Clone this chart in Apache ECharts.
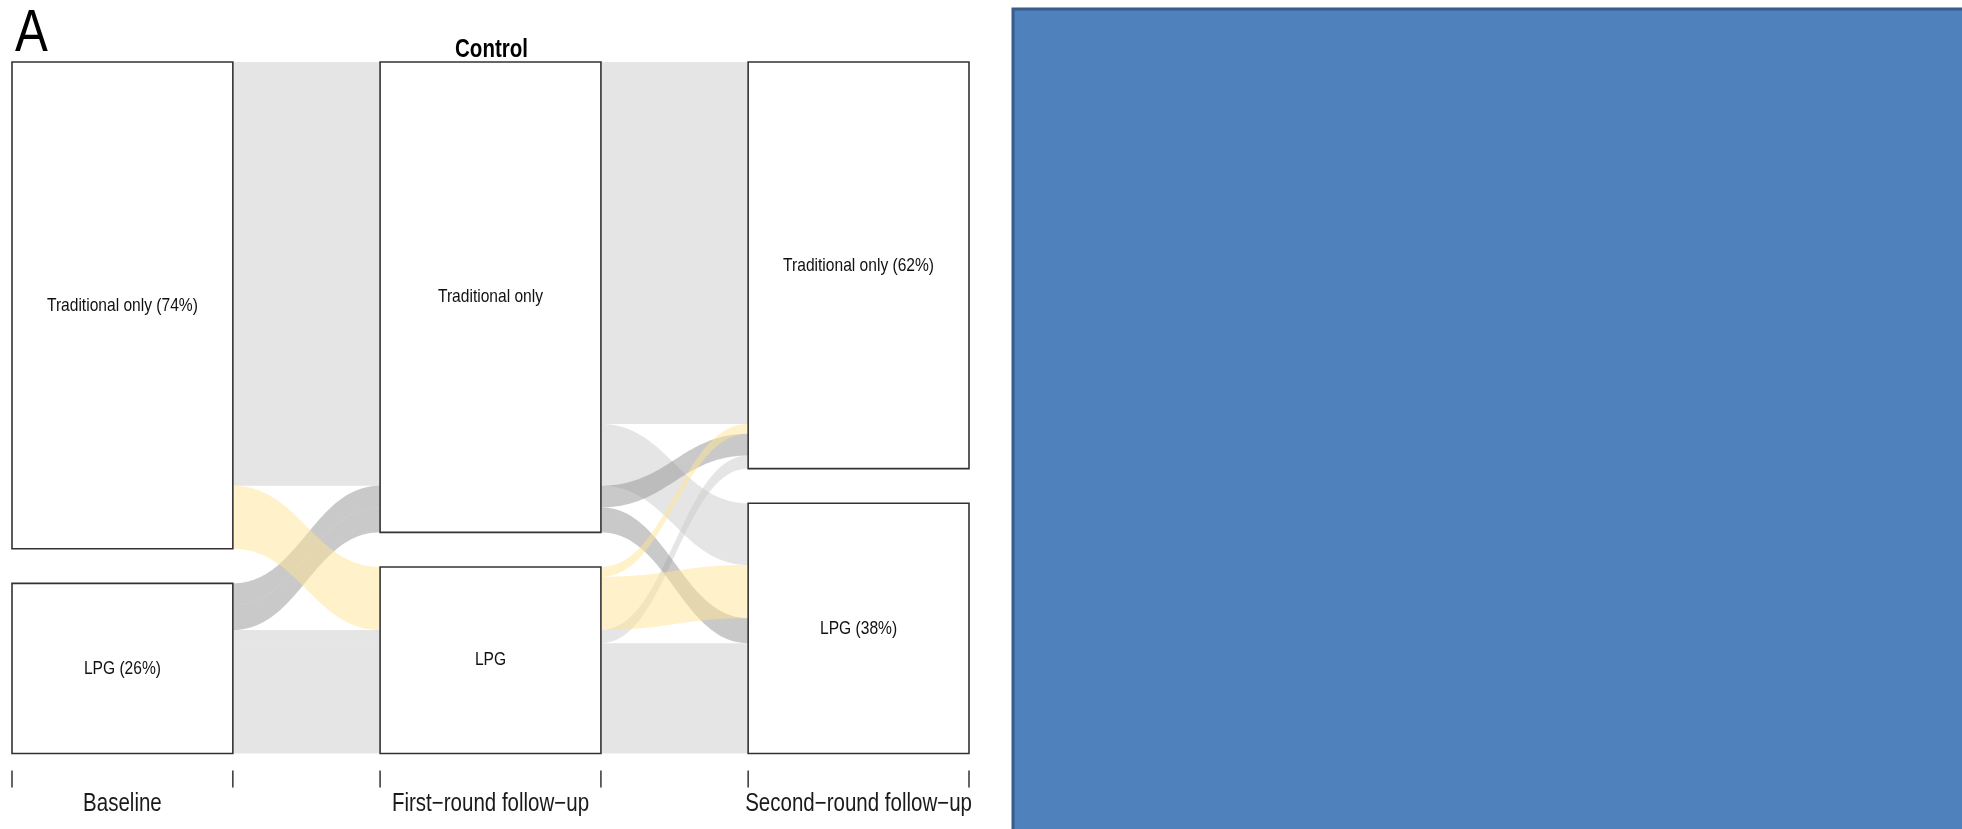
<!DOCTYPE html>
<html>
<head>
<meta charset="utf-8">
<title>Control</title>
<script src="https://cdn.jsdelivr.net/npm/echarts@6/dist/echarts.min.js"></script>
<style>
  html, body { margin: 0; padding: 0; background: #ffffff; }
  #chart { width: 1962px; height: 829px; }
</style>
</head>
<body>
<div id="chart"></div>
<script>
// Survey rounds (one column per round)
const axisNames = ['Baseline', 'First\u2212round follow\u2212up', 'Second\u2212round follow\u2212up'];
// Fuel categories, listed top to bottom
const fuelLevels = ['Traditional only', 'LPG'];
// One entry per household pathway: fuel used at each round and its share (%)
const baselineFuel = ['Traditional only', 'Traditional only', 'Traditional only', 'Traditional only', 'LPG', 'LPG', 'LPG', 'LPG'];
const firstFuel    = ['Traditional only', 'Traditional only', 'LPG', 'LPG', 'Traditional only', 'Traditional only', 'LPG', 'LPG'];
const secondFuel   = ['Traditional only', 'LPG', 'Traditional only', 'LPG', 'Traditional only', 'LPG', 'Traditional only', 'LPG'];
const sharePct     = [55.1, 9.4, 1.5, 8.1, 3.3, 3.8, 2.0, 16.8];
// Whether a round's block labels carry the percentage
const showShare = [true, false, true];

// Arial-metric face squeezed horizontally to give a narrow sans
const FONT = '"Liberation Sans", Arial, sans-serif';
const NARROW = 0.82;
const GAP_WIDTH = 0.05;   // vertical gap between blocks, as a fraction of the axis
const HALF_BOX = 0.3;     // half width of a block, in axis units
const CURVE = 0.45;       // horizontal reach of the bezier handles

const dims = [baselineFuel, firstFuel, secondFuel];
const total = sharePct.reduce((s, v) => s + v, 0);
const yMax = total / (1 - GAP_WIDTH * (fuelLevels.length - 1));
const gap = yMax * GAP_WIDTH;
const rank = v => fuelLevels.indexOf(v);

// Stack the stripes on every axis: sort by the current round first, then the others
const stripeTop = dims.map(() => []);
const strata = [];
dims.forEach((dim, i) => {
  const keyOrder = [i].concat(dims.map((_, k) => k).filter(k => k !== i));
  const order = sharePct.map((_, a) => a).sort((a, b) => {
    for (const k of keyOrder) {
      const d = rank(dims[k][a]) - rank(dims[k][b]);
      if (d) return d;
    }
    return 0;
  });
  let y = 0;
  fuelLevels.forEach(lvl => {
    const start = y;
    order.filter(a => dim[a] === lvl).forEach(a => { stripeTop[i][a] = y; y += sharePct[a]; });
    strata.push([i, fuelLevels.indexOf(lvl), start, y]);
    y += gap;
  });
});

// Stripe colour follows the change between baseline and first follow-up
function stripeColor(a) {
  if (baselineFuel[a] === firstFuel[a]) return 'rgba(204,204,204,0.5)';
  if (baselineFuel[a] === 'Traditional only') return 'rgba(255,229,150,0.5)';
  return 'rgba(148,148,148,0.5)';
}
function drawRank(a) {
  if (baselineFuel[a] === firstFuel[a]) return 0;
  return baselineFuel[a] === 'Traditional only' ? 2 : 1;
}

const flowData = [];
sharePct.map((_, a) => a)
  .sort((a, b) => drawRank(a) - drawRank(b))
  .forEach(a => { for (let j = 0; j < dims.length - 1; j++) flowData.push([a, j]); });

function bez(p0, p1, p2, p3, t) {
  const u = 1 - t;
  return u * u * u * p0 + 3 * u * u * t * p1 + 3 * u * t * t * p2 + t * t * t * p3;
}

function narrowText(x, y, text, font, color) {
  return {
    type: 'text', x: x, y: y, scaleX: NARROW, scaleY: 1,
    style: { text: text, font: font, fill: color || '#111111', align: 'center', verticalAlign: 'middle' }
  };
}

const chart = echarts.init(document.getElementById('chart'), null, { renderer: 'canvas' });

chart.setOption({
  animation: false,
  backgroundColor: '#ffffff',
  grid: { left: 12, right: 993, top: 62, bottom: 75.5 },
  xAxis: { type: 'value', min: 1 - HALF_BOX, max: dims.length + HALF_BOX, show: false },
  yAxis: { type: 'value', min: 0, max: yMax, inverse: true, show: false },
  graphic: [
    {
      type: 'rect', silent: true,
      shape: { x: 1013, y: 9, width: 1000, height: 900 },
      style: { fill: '#4f81bd', stroke: '#385d8a', lineWidth: 3 }
    },
    {
      type: 'text', x: 15, y: 34, scaleX: NARROW,
      style: { text: 'A', font: '60px ' + FONT, fill: '#000000', verticalAlign: 'middle', align: 'left' }
    },
    {
      type: 'text', x: 491.5, y: 50, scaleX: NARROW,
      style: { text: 'Control', font: 'bold 25px ' + FONT, fill: '#000000', verticalAlign: 'middle', align: 'center' }
    }
  ],
  series: [
    {
      type: 'custom',
      name: 'flows',
      z: 1,
      data: flowData,
      renderItem: (params, api) => {
        const a = api.value(0), j = api.value(1);
        const xl = j + 1 + HALF_BOX, xr = j + 2 - HALF_BOX;
        const dx = xr - xl;
        const h = sharePct[a];
        const tl = stripeTop[j][a], tr = stripeTop[j + 1][a];
        const N = 60;
        const top = [], bottom = [];
        for (let s = 0; s <= N; s++) {
          const t = s / N;
          const x = bez(xl, xl + CURVE * dx, xr - CURVE * dx, xr, t);
          const y = bez(tl, tl, tr, tr, t);
          top.push(api.coord([x, y]));
          bottom.push(api.coord([x, y + h]));
        }
        return {
          type: 'polygon',
          shape: { points: top.concat(bottom.reverse()) },
          style: { fill: stripeColor(a) }
        };
      }
    },
    {
      type: 'custom',
      name: 'blocks',
      z: 5,
      data: strata,
      renderItem: (params, api) => {
        const i = api.value(0), li = api.value(1);
        const y0 = api.value(2), y1 = api.value(3);
        const p0 = api.coord([i + 1 - HALF_BOX, y0]);
        const p1 = api.coord([i + 1 + HALF_BOX, y1]);
        let label = fuelLevels[li];
        if (showShare[i]) label += ' (' + Math.round((y1 - y0) / total * 100) + '%)';
        return {
          type: 'group',
          children: [
            {
              type: 'rect',
              shape: { x: p0[0], y: p0[1], width: p1[0] - p0[0], height: p1[1] - p0[1] },
              style: { fill: '#ffffff', stroke: '#333333', lineWidth: 1.6 }
            },
            narrowText((p0[0] + p1[0]) / 2, (p0[1] + p1[1]) / 2, label, '19px ' + FONT)
          ]
        };
      }
    },
    {
      // round names and the tick marks at each block's edges
      type: 'custom',
      name: 'rounds',
      z: 5,
      data: axisNames.map((_, i) => [i + 1]),
      renderItem: (params, api) => {
        const c = api.value(0);
        const left = api.coord([c - HALF_BOX, yMax]);
        const right = api.coord([c + HALF_BOX, yMax]);
        const mid = api.coord([c, yMax]);
        const tickTop = left[1] + 17, tickBottom = left[1] + 34;
        const tick = x => ({
          type: 'line',
          shape: { x1: x, y1: tickTop, x2: x, y2: tickBottom },
          style: { stroke: '#333333', lineWidth: 1.5 }
        });
        return {
          type: 'group',
          children: [
            tick(left[0]), tick(right[0]),
            narrowText(mid[0], left[1] + 51, axisNames[c - 1], '25px ' + FONT, '#1a1a1a')
          ]
        };
      }
    }
  ]
});
</script>
</body>
</html>
